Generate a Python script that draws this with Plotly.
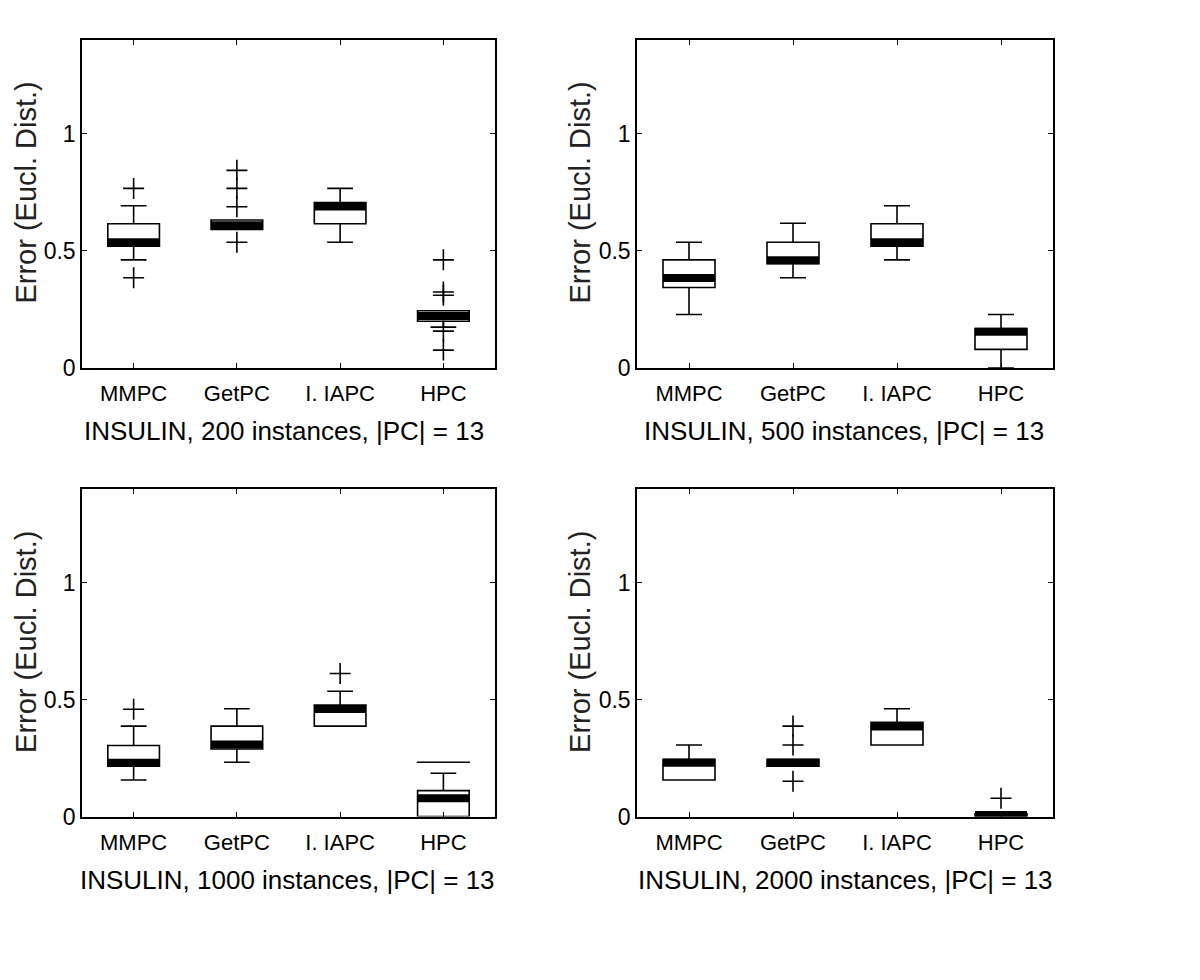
import plotly.graph_objects as go
from plotly.subplots import make_subplots

categories = ["MMPC", "GetPC", "I. IAPC", "HPC"]
titles = [
    "INSULIN, 200 instances, |PC| = 13",
    "INSULIN, 500 instances, |PC| = 13",
    "INSULIN, 1000 instances, |PC| = 13",
    "INSULIN, 2000 instances, |PC| = 13",
]
y_label = "Error (Eucl. Dist.)"
y_ticks = [0, 0.5, 1]
y_ticktext = ["0", "0.5", "1"]

# Panel 1: 200 instances
lower_200 = [0.462, 0.592, 0.537, 0.175]
q1_200 = [0.520, 0.592, 0.616, 0.200]
median_200 = [0.537, 0.610, 0.690, 0.222]
q3_200 = [0.616, 0.632, 0.707, 0.245]
upper_200 = [0.693, 0.632, 0.767, 0.245]
outliers_200 = [[0.767, 0.386], [0.844, 0.767, 0.689, 0.537], [], [0.462, 0.325, 0.311, 0.158, 0.077]]
dash_200 = [None, None, None, None]

# Panel 2: 500 instances
lower_500 = [0.229, 0.386, 0.462, 0.0]
q1_500 = [0.344, 0.446, 0.520, 0.080]
median_500 = [0.385, 0.460, 0.537, 0.155]
q3_500 = [0.462, 0.537, 0.616, 0.169]
upper_500 = [0.537, 0.618, 0.693, 0.229]
outliers_500 = [[], [], [], []]
dash_500 = [None, None, None, None]

# Panel 3: 1000 instances
lower_1000 = [0.156, 0.232, 0.387, 0.0]
q1_1000 = [0.215, 0.289, 0.387, 0.0]
median_1000 = [0.230, 0.308, 0.460, 0.078]
q3_1000 = [0.304, 0.387, 0.477, 0.111]
upper_1000 = [0.387, 0.461, 0.536, 0.185]
outliers_1000 = [[0.459], [], [0.612], []]
dash_1000 = [None, None, None, 0.232]

# Panel 4: 2000 instances
lower_2000 = [0.156, 0.215, 0.306, 0.0]
q1_2000 = [0.156, 0.215, 0.306, 0.0]
median_2000 = [0.230, 0.230, 0.385, 0.006]
q3_2000 = [0.245, 0.245, 0.403, 0.012]
upper_2000 = [0.306, 0.245, 0.461, 0.012]
outliers_2000 = [[], [0.387, 0.306, 0.151], [], [0.078]]
dash_2000 = [None, None, None, None]

panels = [
    (lower_200, q1_200, median_200, q3_200, upper_200, outliers_200, dash_200),
    (lower_500, q1_500, median_500, q3_500, upper_500, outliers_500, dash_500),
    (lower_1000, q1_1000, median_1000, q3_1000, upper_1000, outliers_1000, dash_1000),
    (lower_2000, q1_2000, median_2000, q3_2000, upper_2000, outliers_2000, dash_2000),
]

BOX_W = 0.5
positions = list(range(1, len(categories) + 1))

fig = make_subplots(rows=2, cols=2)

for k, (lo, q1, med, q3, up, outs, dashes) in enumerate(panels):
    r, c = k // 2 + 1, k % 2 + 1
    fig.add_trace(go.Box(
        x=positions, q1=q1, median=med, q3=q3, lowerfence=lo, upperfence=up,
        width=BOX_W, whiskerwidth=0.5, fillcolor="white",
        line=dict(color="black", width=1.6), boxpoints=False,
        showlegend=False, hoverinfo="skip"), row=r, col=c)
    # thick median bars
    for p, m in zip(positions, med):
        fig.add_trace(go.Scatter(
            x=[p - BOX_W / 2, p + BOX_W / 2], y=[m, m], mode="lines",
            line=dict(color="black", width=8), showlegend=False,
            hoverinfo="skip"), row=r, col=c)
    # outliers
    ox, oy = [], []
    for p, vals in zip(positions, outs):
        for v in vals:
            ox.append(p)
            oy.append(v)
    if ox:
        fig.add_trace(go.Scatter(
            x=ox, y=oy, mode="markers",
            marker=dict(symbol="cross-thin", size=15,
                        line=dict(color="black", width=1.6)),
            showlegend=False, hoverinfo="skip"), row=r, col=c)
    dx = [p for p, d in zip(positions, dashes) if d is not None]
    dy = [d for d in dashes if d is not None]
    if dx:
        fig.add_trace(go.Scatter(
            x=dx, y=dy, mode="markers",
            marker=dict(symbol="line-ew", size=38,
                        line=dict(color="black", width=1.6)),
            showlegend=False, hoverinfo="skip"), row=r, col=c)

W, H = 1200, 980
OFF = 8          # page body margin
H_RENDER = 964   # effective drawn height of the page


def px_x(v):
    return (v - OFF) / W


def px_y(v):
    return 1 - (v - OFF) / H_RENDER


x_domains = [[px_x(82), px_x(495)], [px_x(637), px_x(1053)]]
y_domains = [[px_y(367), px_y(40)], [px_y(814), px_y(488)]]

tick_font = dict(family="Liberation Sans, Arial", size=22, color="black")
ytick_font = dict(family="Liberation Sans, Arial", size=23, color="black")

for k in range(4):
    r, c = k // 2, k % 2
    xa = "xaxis" if k == 0 else f"xaxis{k + 1}"
    ya = "yaxis" if k == 0 else f"yaxis{k + 1}"
    fig.layout[xa].update(
        domain=x_domains[c], range=[0.5, 4.5], tickvals=positions, ticktext=categories,
        showline=True, linecolor="black", linewidth=1.5, mirror="ticks",
        ticks="inside", ticklen=5, tickwidth=1.2, tickcolor="black",
        showgrid=False, zeroline=False, tickfont=tick_font, ticklabelstandoff=5)
    fig.layout[ya].update(
        domain=y_domains[r], range=[0, 1.4], tickvals=y_ticks, ticktext=y_ticktext,
        showline=True, linecolor="black", linewidth=1.5, mirror="ticks",
        ticks="inside", ticklen=5, tickwidth=1.2, tickcolor="black",
        showgrid=False, zeroline=False, tickfont=ytick_font)

title_centers = [(284, 430), (844, 430), (287, 877), (845, 877)]
ylabel_centers = [(26, 192), (580, 192), (26, 640), (580, 640)]
for k in range(4):
    tx, ty = title_centers[k]
    fig.add_annotation(
        text=titles[k], x=px_x(tx), y=px_y(ty), xref="paper", yref="paper",
        showarrow=False, xanchor="center", yanchor="middle",
        font=dict(family="Liberation Sans, Arial", size=26, color="black"))
    lx, ly = ylabel_centers[k]
    fig.add_annotation(
        text=y_label, x=px_x(lx), y=px_y(ly), xref="paper", yref="paper",
        showarrow=False, xanchor="center", yanchor="middle", textangle=-90,
        borderpad=0,
        font=dict(family="Liberation Sans, Arial", size=29, color="#222222"))

fig.update_layout(
    width=W, height=H, margin=dict(l=0, r=0, t=0, b=0),
    paper_bgcolor="white", plot_bgcolor="white", showlegend=False)

fig.write_html("out.html")
